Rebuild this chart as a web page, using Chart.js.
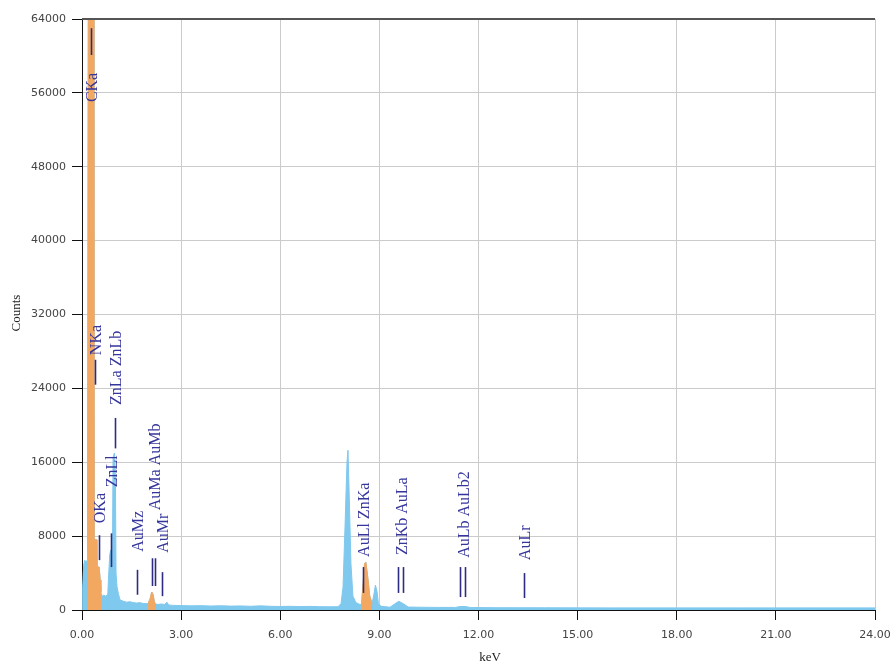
<!DOCTYPE html>
<html>
<head>
<meta charset="utf-8">
<script src="https://cdn.jsdelivr.net/npm/chart.js@4.4.1/dist/chart.umd.min.js"></script>
<style>
  body { margin: 0; background: #fff; }
  canvas { display: block; }
</style>
</head>
<body>
<canvas id="spectrum" width="895" height="668"></canvas>
<script>
// tick labels
var xTicks = [0, 3, 6, 9, 12, 15, 18, 21, 24];
var yTicks = [0, 8000, 16000, 24000, 32000, 40000, 48000, 56000, 64000];

// full spectrum (blue), keV / counts
var keV = [
  0.00, 0.02, 0.05, 0.08, 0.12, 0.16, 0.17, 0.20, 0.27, 0.34, 0.36, 0.44, 0.45, 0.52, 0.55, 0.58,
  0.61, 0.66, 0.72, 0.78, 0.81, 0.84, 0.87, 0.90, 0.925, 0.94, 0.98, 1.01, 1.03, 1.06, 1.10, 1.15,
  1.25, 1.35, 1.45, 1.55, 1.65, 1.75, 1.85, 1.95, 2.00, 2.06, 2.11, 2.15, 2.19, 2.22, 2.30, 2.40,
  2.50, 2.57, 2.62, 2.75, 3.00, 3.30, 3.60, 3.90, 4.20, 4.50, 4.80, 5.10, 5.40, 5.70, 6.00, 6.30,
  6.60, 6.90, 7.20, 7.50, 7.75, 7.84, 7.90, 7.96, 8.02, 8.05, 8.09, 8.14, 8.20, 8.29, 8.41, 8.46,
  8.50, 8.55, 8.59, 8.65, 8.71, 8.78, 8.84, 8.88, 8.93, 8.97, 9.05, 9.32, 9.44, 9.59, 9.74, 9.87,
  10.2, 10.8, 11.3, 11.45, 11.6, 11.75, 12.5, 14.0, 16.0, 18.0, 20.0, 22.0, 24.0
];
var counts = [
  0, 2500, 4800, 5400, 5200, 5400, 6200, 90000, 100000, 90000, 7600, 7600, 4650, 4650, 3250, 1800,
  1500, 1600, 1500, 1700, 4000, 6000, 6500, 6000, 8000, 16500, 17000, 15000, 4000, 2500, 1800, 1100,
  950, 850, 900, 800, 750, 800, 700, 700, 700, 1200, 1950, 1700, 900, 650, 600, 650,
  600, 850, 550, 500, 480, 450, 470, 430, 460, 420, 440, 400, 450, 400, 380, 400,
  370, 390, 360, 350, 350, 700, 2500, 9000, 16000, 17300, 12000, 5000, 1500, 800, 600, 600,
  2500, 5000, 5200, 3500, 1500, 700, 1800, 2700, 2000, 700, 400, 300, 600, 950, 650, 320,
  300, 280, 280, 380, 380, 270, 250, 240, 230, 230, 230, 230, 230
];

// identified peaks (orange)
var cKeV = [0.17, 0.20, 0.27, 0.34, 0.36, 0.44, 0.45, 0.52, 0.55, 0.575];
var cCounts = [6200, 90000, 100000, 90000, 7600, 7600, 4650, 4650, 3250, 2000];
var auKeV = [2.00, 2.06, 2.11, 2.15, 2.19, 2.22];
var auCounts = [700, 1200, 1950, 1700, 900, 650];
var znKeV = [8.46, 8.50, 8.55, 8.59, 8.65, 8.71, 8.78];
var znCounts = [600, 2500, 5000, 5200, 3500, 1500, 700];

// peak markers: line energies, marker span and text start (in counts)
var peakLabels = [
  { text: "CKa", e: [0.277], line: [60100, 63000], at: 55000 },
  { text: "NKa", e: [0.392], line: [24400, 27100], at: 27600 },
  { text: "OKa", e: [0.525], line: [5400, 8100], at: 9400 },
  { text: "ZnLl", e: [0.884], line: [4650, 8300], at: 13300 },
  { text: "ZnLa ZnLb", e: [1.012], line: [17500, 20800], at: 22200 },
  { text: "AuMz", e: [1.66], line: [1650, 4350], at: 6300 },
  { text: "AuMa AuMb", e: [2.123, 2.205], line: [2600, 5600], at: 10800 },
  { text: "AuMr", e: [2.41], line: [1500, 4100], at: 6200 },
  { text: "AuLl ZnKa", e: [8.49], line: [1850, 4650], at: 5750 },
  { text: "ZnKb AuLa", e: [9.57, 9.71], line: [1850, 4650], at: 5950 },
  { text: "AuLb AuLb2", e: [11.44, 11.58], line: [1400, 4650], at: 5650 },
  { text: "AuLr", e: [13.38], line: [1300, 4000], at: 5400 }
];

var blue = "#7fc8ee";
var orange = "#f3a862";

function pts(xs, ys) {
  return xs.map(function (x, i) { return { x: x, y: ys[i] }; });
}

function area(xs, ys, color) {
  return {
    data: pts(xs, ys),
    backgroundColor: color,
    borderColor: color,
    borderWidth: 1,
    fill: "origin",
    pointRadius: 0,
    tension: 0
  };
}

var peakPlugin = {
  id: "peaks",
  afterDatasetsDraw: function (chart) {
    var c = chart.ctx;
    var xs = chart.scales.x;
    var ys = chart.scales.y;
    var a = chart.chartArea;
    c.save();
    // top frame line
    c.strokeStyle = "#555";
    c.lineWidth = 2;
    c.beginPath();
    c.moveTo(a.left, a.top);
    c.lineTo(a.right, a.top);
    c.stroke();

    c.font = "16px 'Liberation Serif', 'Times New Roman', serif";
    c.textBaseline = "middle";
    c.textAlign = "left";
    peakLabels.forEach(function (p) {
      var sum = 0;
      c.strokeStyle = "#2c2c82";
      c.lineWidth = 1.6;
      p.e.forEach(function (e) {
        var px = Math.round(xs.getPixelForValue(e)) + 0.5;
        sum += px;
        c.beginPath();
        c.moveTo(px, ys.getPixelForValue(p.line[0]));
        c.lineTo(px, ys.getPixelForValue(p.line[1]));
        c.stroke();
      });
      var tx = sum / p.e.length + 1.5;
      c.save();
      c.translate(tx, ys.getPixelForValue(p.at));
      c.rotate(-Math.PI / 2);
      c.fillStyle = "#35359c";
      c.fillText(p.text, 0, 0);
      c.restore();
    });

    // axis titles
    c.fillStyle = "#222";
    c.textAlign = "center";
    c.font = "13px 'Liberation Serif', 'Times New Roman', serif";
    c.fillText("keV", 490, 658);
    c.save();
    c.translate(17, 313);
    c.rotate(-Math.PI / 2);
    c.fillText("Counts", 0, 0);
    c.restore();
    c.restore();
  }
};

var tickFont = { family: "'DejaVu Sans', Verdana, sans-serif", size: 11 };

var ctx = document.getElementById("spectrum").getContext("2d");
var spectrum = new Chart(ctx, {
  type: "line",
  data: {
    datasets: [
      area(cKeV, cCounts, orange),
      area(auKeV, auCounts, orange),
      area(znKeV, znCounts, orange),
      area(keV, counts, blue)
    ]
  },
  options: {
    responsive: false,
    animation: false,
    layout: { padding: { top: 19, right: 20, left: 0, bottom: 0 } },
    plugins: {
      legend: { display: false },
      tooltip: { enabled: false }
    },
    scales: {
      x: {
        type: "linear",
        min: 0,
        max: 24,
        afterBuildTicks: function (s) {
          s.ticks = xTicks.map(function (v) { return { value: v }; });
        },
        afterFit: function (s) {
          s.height = 58;
          s.paddingLeft = 0;
          s.paddingRight = 0;
        },
        ticks: {
          font: tickFont,
          color: "#444",
          padding: 9,
          maxRotation: 0,
          callback: function (v) { return Number(v).toFixed(2); }
        },
        grid: { color: "#cbcbcb", tickColor: "#111", tickLength: 10 },
        border: { color: "#111" }
      },
      y: {
        min: 0,
        max: 64000,
        afterBuildTicks: function (s) {
          s.ticks = yTicks.map(function (v) { return { value: v }; });
        },
        afterFit: function (s) {
          s.width = 82;
          s.paddingTop = 0;
          s.paddingBottom = 0;
        },
        ticks: {
          font: tickFont,
          color: "#444",
          padding: 6,
          callback: function (v) { return String(v); }
        },
        grid: { color: "#cbcbcb", tickColor: "#111", tickLength: 10 },
        border: { color: "#111" }
      }
    }
  },
  plugins: [peakPlugin]
});
</script>
</body>
</html>
